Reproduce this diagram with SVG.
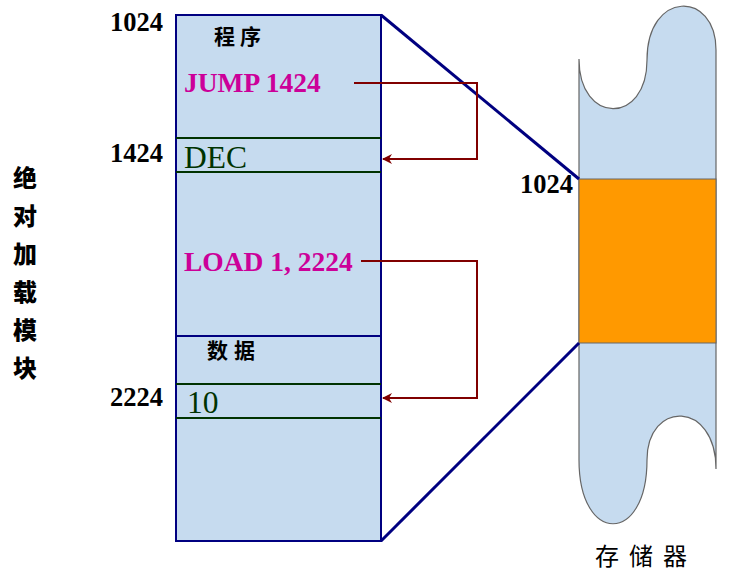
<svg xmlns="http://www.w3.org/2000/svg" width="732" height="574" viewBox="0 0 732 574">
<style>
.addr{font-family:"Liberation Serif",serif;font-weight:bold;font-size:26.5px;fill:#000}
.instr{font-family:"Liberation Serif",serif;font-weight:bold;font-size:27.5px;fill:#CC0099}
.data{font-family:"Liberation Serif",serif;font-size:31.5px;fill:#003300}
.cjkb{font-family:"Noto Sans CJK SC",sans-serif;font-weight:bold;font-size:21px;fill:#000}
.side{font-family:"Noto Sans CJK SC",sans-serif;font-weight:900;font-size:24px;fill:#000}
.cjk{font-family:"Noto Sans CJK SC",sans-serif;font-size:24px;fill:#000}
.green{stroke:#003300;stroke-width:2}
.navy{stroke:#000080;stroke-width:3;fill:none}
.link{stroke:#800000;stroke-width:2;fill:none}
</style>
<defs>
<marker id="ah" viewBox="0 0 10 10" refX="9" refY="5" markerWidth="5" markerHeight="5" orient="auto">
<path d="M0,0 L10,5 L0,10 L3,5 Z" fill="#800000"/>
</marker>
</defs>
<g id="module">
<rect x="176" y="15" width="205" height="526" fill="#C6DBEF" stroke="#000080" stroke-width="2"/>
<line x1="176" y1="138" x2="381" y2="138" class="green"/>
<line x1="176" y1="172" x2="381" y2="172" class="green"/>
<line x1="176" y1="336" x2="381" y2="336" stroke="#000080" stroke-width="2"/>
<line x1="176" y1="384" x2="381" y2="384" class="green"/>
<line x1="176" y1="418" x2="381" y2="418" class="green"/>
<text x="214" y="44" class="cjkb" letter-spacing="5">程序</text>
<text x="184" y="92" class="instr">JUMP 1424</text>
<text x="184" y="168" class="data">DEC</text>
<text x="184" y="271" class="instr">LOAD 1, 2224</text>
<text x="207" y="358" class="cjkb" letter-spacing="6">数据</text>
<text x="187" y="413" class="data" font-size="37">10</text>
</g>
<g id="addresses">
<text x="110" y="31" class="addr">1024</text>
<text x="110" y="162" class="addr">1424</text>
<text x="110" y="406" class="addr">2224</text>
<text x="520" y="193" class="addr">1024</text>
</g>
<g id="label-left">
<text x="25" y="187" class="side" text-anchor="middle">绝</text>
<text x="25" y="225" class="side" text-anchor="middle">对</text>
<text x="25" y="263" class="side" text-anchor="middle">加</text>
<text x="25" y="301" class="side" text-anchor="middle">载</text>
<text x="25" y="339" class="side" text-anchor="middle">模</text>
<text x="25" y="377" class="side" text-anchor="middle">块</text>
</g>
<g id="memory">
<path d="M579,59 C579,125 647,125 647,60 C647,-10 716,-10 716,50 L716,469 C716,400 647,400 647,460 C647,545 579,545 579,460 Z" fill="#C6DBEF" stroke="#666" stroke-width="1.2"/>
<rect x="579" y="179" width="137" height="164" fill="#FF9900" stroke="#666" stroke-width="1"/>
<text x="595" y="565" class="cjk" letter-spacing="10">存储器</text>
</g>
<g id="connectors">
<line x1="381" y1="15" x2="579" y2="179" class="navy"/>
<line x1="381" y1="541" x2="579" y2="343" class="navy"/>
<polyline points="354,83 477,83 477,159 383,159" class="link" marker-end="url(#ah)"/>
<polyline points="361,261 477,261 477,398 383,398" class="link" marker-end="url(#ah)"/>
</g>
</svg>
